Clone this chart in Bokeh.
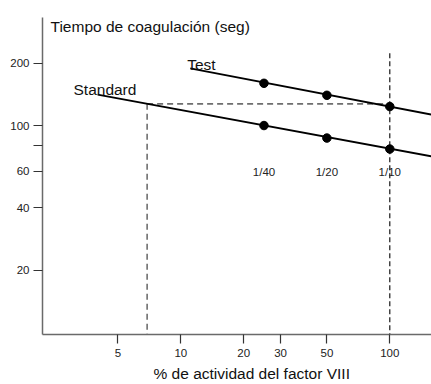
from bokeh.plotting import figure
from bokeh.models import Range1d, FixedTicker, Label, ColumnDataSource, BasicTickFormatter, Title
from bokeh.embed import file_html
from bokeh.resources import INLINE
from bokeh.core.properties import value

# ---- data ----
dilutions = ["1/40", "1/20", "1/10"]
activity = [25, 50, 100]                 # % factor VIII activity
test_time = [160, 140, 123.5]            # clotting time (s), test plasma
standard_time = [100, 87, 77]            # clotting time (s), standard plasma

standard_fit_x = [4.0, 158]
standard_fit_y = [141, 71]
test_fit_x = [11.1, 158]
test_fit_y = [189, 113]

read_activity = 6.9     # activity
read_time = 127.3       # clotting time of test at 1/10

x_ticks = [5, 10, 20, 30, 50, 100]
y_ticks = [20, 40, 60, 80, 100, 200]
y_tick_labels = {20: "20", 40: "40", 60: "60", 80: "", 100: "100", 200: "200"}
x_tick_labels = {5: "5", 10: "10", 20: "20", 30: "30", 50: "50", 100: "100"}

x_min, x_max = 2.179, 158.3
y_min, y_max = 9.78, 332.7

FONT = "Liberation Sans"

p = figure(width=431, height=384, x_axis_type="log", y_axis_type="log",
           x_range=Range1d(x_min, x_max), y_range=Range1d(y_min, y_max),
           output_backend="svg", toolbar_location=None,
           min_border_left=42, min_border_right=0, min_border_top=17, min_border_bottom=50)
p.outline_line_color = None
p.xgrid.visible = False
p.ygrid.visible = False
p.background_fill_color = "white"
p.border_fill_color = "white"

for ax, ticks, labels in ((p.xaxis, x_ticks, x_tick_labels), (p.yaxis, y_ticks, y_tick_labels)):
    ax.ticker = FixedTicker(ticks=ticks, minor_ticks=[])
    ax.formatter = BasicTickFormatter()
    ax.major_label_overrides = labels
    ax.axis_line_color = "#6a6a6a"
    ax.axis_line_width = 1.5
    ax.major_tick_line_color = "#333333"
    ax.major_tick_line_width = 1.2
    ax.major_tick_out = 9
    ax.major_tick_in = 0
    ax.minor_tick_out = 0
    ax.minor_tick_in = 0
    ax.major_label_text_font = FONT
    ax.major_label_text_font_size = "11.5px"
    ax.major_label_text_color = "#222222"
    ax.major_label_standoff = 4
p.xaxis.major_label_standoff = 5

# dashed reading lines
p.line([read_activity, 100], [read_time, read_time], line_color="#6e6e6e",
       line_width=1.6, line_dash="6 4")
p.line([read_activity, read_activity], [read_time, y_min], line_color="#6e6e6e",
       line_width=1.6, line_dash="6 4")
p.line([100, 100], [223.5, y_min], line_color="black", line_width=1.1, line_dash="5 3")

# fitted lines
p.line(standard_fit_x, standard_fit_y, line_color="black", line_width=1.8)
p.line(test_fit_x, test_fit_y, line_color="black", line_width=1.8)

# points
src = ColumnDataSource(dict(x=activity, t=test_time, s=standard_time, lab=dilutions,
                            ly=[59.5] * len(activity)))
p.scatter("x", "t", source=src, size=8.5, fill_color="black", line_color="black")
p.scatter("x", "s", source=src, size=8.5, fill_color="black", line_color="black")
p.text("x", "ly", text="lab", source=src, text_align="center", text_baseline="alphabetic",
       text_font=value(FONT), text_font_size="11.5px", text_color="#222222")

# annotations
def lab(x, y, t):
    p.add_layout(Label(x=x, y=y, text=t, text_font=FONT, text_font_size="15.5px",
                       text_color="#111111", text_align="left", text_baseline="alphabetic"))

lab(3.066, 148.8, "Standard")
lab(10.73, 196.5, "Test")
lab(2.38, 300.8, "Tiempo de coagulación (seg)")

xtitle = Title(text="% de actividad del factor VIII", align="left", offset=111,
               text_font=FONT, text_font_size="15.5px", text_font_style="normal",
               text_color="#111111", standoff=6)
p.add_layout(xtitle, "below")

open("out.html", "w").write(file_html(p, INLINE))
